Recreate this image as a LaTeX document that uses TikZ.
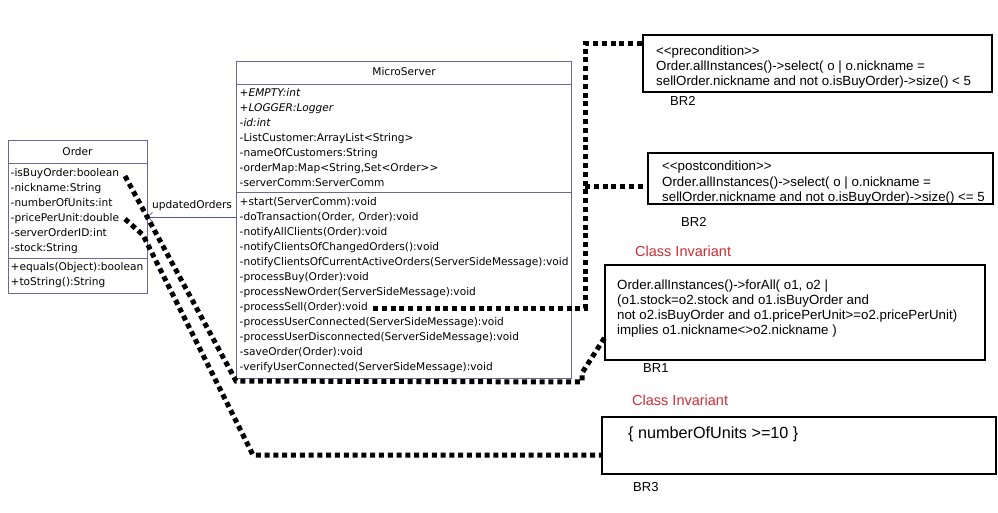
\documentclass[tikz,border=0pt]{standalone}
\usepackage{fontspec}
\setmainfont{Liberation Sans}
\newfontfamily\umlfamily{DejaVu Sans}
\usetikzlibrary{arrows.meta}
\definecolor{umlborder}{RGB}{105,105,150}
\definecolor{assoccol}{RGB}{80,90,160}
\definecolor{invred}{RGB}{205,45,55}
\begin{document}
\begin{tikzpicture}[x=1pt,y=-1pt,
  umlbox/.style={draw=umlborder, line width=0.8pt, anchor=north west, inner sep=0pt, outer sep=0pt},
  umlsep/.style={draw=umlborder, line width=0.8pt},
  umltxt/.style={anchor=base west, inner sep=0pt, font=\umlfamily\fontsize{10.6}{12}\selectfont},
  umlit/.style={umltxt, font=\umlfamily\itshape\fontsize{10.6}{12}\selectfont},
  umltitle/.style={anchor=base, inner sep=0pt, font=\umlfamily\fontsize{10.6}{12}\selectfont},
  oclbox/.style={draw=black, line width=2.2pt, anchor=north west, inner sep=0pt, outer sep=0pt},
  ocltxt/.style={anchor=base west, inner sep=0pt, font=\fontsize{13.3}{15}\selectfont},
  invlabel/.style={anchor=base west, inner sep=0pt, text=invred, font=\fontsize{14.5}{16}\selectfont},
  brlabel/.style={anchor=base west, inner sep=0pt, font=\fontsize{13}{15}\selectfont},
  bigtxt/.style={anchor=base west, inner sep=0pt, font=\fontsize{16.2}{18}\selectfont},
  dotline/.style={draw=black, line width=5pt, dash pattern=on 5pt off 3.8pt},
  assocline/.style={draw=assoccol, line width=0.7pt, -{Straight Barb[length=5pt,width=9pt]}}
]
\useasboundingbox (0,0) rectangle (998,513);
\fill[white] (0,0) rectangle (998,513);

% ---------- Order class ----------
\node[umlbox, minimum width=139pt, minimum height=153pt] (order) at (8,140) {};
\draw[umlsep] (8,163.8) -- (147,163.8);
\draw[umlsep] (8,258) -- (147,258);
\node[umltitle] (ordertitle) at (77.5,155.6) {Order};
\node[umltxt] (o1) at (10.5,176.9) {-isBuyOrder:boolean};
\node[umltxt] (o2) at (10.5,191.9) {-nickname:String};
\node[umltxt] (o3) at (10.5,206.9) {-numberOfUnits:int};
\node[umltxt] (o4) at (10.5,221.9) {-pricePerUnit:double};
\node[umltxt] (o5) at (10.5,236.9) {-serverOrderID:int};
\node[umltxt] (o6) at (10.5,251.9) {-stock:String};
\node[umltxt] (o7) at (10.5,270.6) {+equals(Object):boolean};
\node[umltxt] (o8) at (10.5,285.6) {+toString():String};

% ---------- MicroServer class ----------
\node[umlbox, minimum width=335pt, minimum height=317pt] (ms) at (236.5,61) {};
\draw[umlsep] (236.5,84.3) -- (571.5,84.3);
\draw[umlsep] (236.5,192.3) -- (571.5,192.3);
\node[umltitle] (mstitle) at (404,75.9) {MicroServer};
\node[umlit] (a1) at (239.5,96.6) {+EMPTY:int};
\node[umlit] (a2) at (239.5,111.6) {+LOGGER:Logger};
\node[umlit] (a3) at (239.5,126.6) {-id:int};
\node[umltxt] (a4) at (239.5,141.6) {-ListCustomer:ArrayList<String>};
\node[umltxt] (a5) at (239.5,156.6) {-nameOfCustomers:String};
\node[umltxt] (a6) at (239.5,171.6) {-orderMap:Map<String,Set<Order>{}>};
\node[umltxt] (a7) at (239.5,186.6) {-serverComm:ServerComm};
\node[umltxt] (m1) at (239.5,205.6) {+start(ServerComm):void};
\node[umltxt] (m2) at (239.5,220.6) {-doTransaction(Order, Order):void};
\node[umltxt] (m3) at (239.5,235.6) {-notifyAllClients(Order):void};
\node[umltxt] (m4) at (239.5,250.6) {-notifyClientsOfChangedOrders():void};
\node[umltxt] (m5) at (239.5,265.6) {-notifyClientsOfCurrentActiveOrders(ServerSideMessage):void};
\node[umltxt] (m6) at (239.5,280.6) {-processBuy(Order):void};
\node[umltxt] (m7) at (239.5,295.6) {-processNewOrder(ServerSideMessage):void};
\node[umltxt] (m8) at (239.5,310.6) {-processSell(Order):void};
\node[umltxt] (m9) at (239.5,325.6) {-processUserConnected(ServerSideMessage):void};
\node[umltxt] (m10) at (239.5,340.6) {-processUserDisconnected(ServerSideMessage):void};
\node[umltxt] (m11) at (239.5,355.6) {-saveOrder(Order):void};
\node[umltxt] (m12) at (239.5,370.6) {-verifyUserConnected(ServerSideMessage):void};

% ---------- association ----------
\coordinate (assocstart) at (236.5,217);
\draw[assocline] (assocstart) -- (assocstart -| order.east);
\node[umltxt] (assoclbl) at (152,208.9) {updatedOrders};

% ---------- OCL boxes ----------
\node[oclbox, minimum width=349pt, minimum height=57pt] (pre) at (643,35) {};
\node[ocltxt] (pre1) at (656,56) {<{}<precondition>{}>};
\node[ocltxt] (pre2) at (656,71) {Order.allInstances()->select( o | o.nickname =};
\node[ocltxt] (pre3) at (656,86) {sellOrder.nickname and not o.isBuyOrder)->size() < 5};
\node[brlabel] (br2a) at (670,106) {BR2};

\node[oclbox, minimum width=345pt, minimum height=51pt] (post) at (648,153) {};
\node[ocltxt] (post1) at (662,171) {<{}<postcondition>{}>};
\node[ocltxt] (post2) at (662,186) {Order.allInstances()->select( o | o.nickname =};
\node[ocltxt] (post3) at (662,201) {sellOrder.nickname and not o.isBuyOrder)->size() <= 5};
\node[brlabel] (br2b) at (681,226) {BR2};

\node[invlabel] (inv1) at (635,256.8) {Class Invariant};
\node[oclbox, line width=1.8pt, minimum width=380pt, minimum height=95pt] (br1) at (605,265) {};
\node[ocltxt] (b1) at (617,289.5) {Order.allInstances()->forAll( o1, o2 |};
\node[ocltxt] (b2) at (617,304.5) {(o1.stock=o2.stock and o1.isBuyOrder and};
\node[ocltxt] (b3) at (617,319.5) {not o2.isBuyOrder and o1.pricePerUnit>=o2.pricePerUnit)};
\node[ocltxt] (b4) at (617,334.5) {implies o1.nickname<>o2.nickname )};
\node[brlabel] (br1lbl) at (643,372.7) {BR1};

\node[invlabel] (inv2) at (632,405) {Class Invariant};
\node[oclbox, minimum width=394pt, minimum height=57pt] (br3) at (602,417) {};
\node[bigtxt] (b5) at (628,438.5) {\{ numberOfUnits >=10 \}};
\node[brlabel] (br3lbl) at (633,491.5) {BR3};

% ---------- dotted connectors ----------
\coordinate (sellend) at (373,308);
\coordinate (busbottom) at (585,308);
\coordinate (bustop) at (585,44);
\coordinate (buspost) at (585,187);
\draw[dotline] (sellend) -- (busbottom) -- (bustop) -- (bustop -| pre.west);
\draw[dotline] (buspost) -- (buspost -| post.west);

\coordinate (buyend) at (125,176);
\coordinate (abend) at (236,381);
\coordinate (acorner) at (582,382);
\coordinate (aup) at (582,373);
\coordinate (aend) at (605,337);
\draw[dotline] (buyend) -- (abend) -- (acorner) -- (aup) -- (aend);

\coordinate (priceend) at (125,219);
\coordinate (bknee) at (143,235);
\coordinate (bbend) at (253,455);
\draw[dotline] (priceend) -- (bknee) -- (bbend) -- (bbend -| br3.west);
\end{tikzpicture}
\end{document}
